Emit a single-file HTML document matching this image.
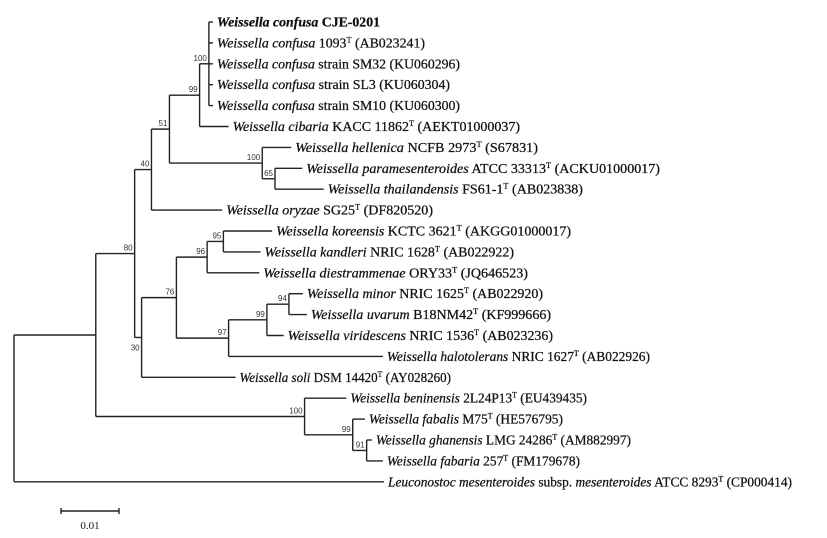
<!DOCTYPE html>
<html><head><meta charset="utf-8"><style>
html,body{margin:0;padding:0;background:#fff;}
svg{display:block;}
text{font-family:"Liberation Serif",serif;fill:#111;}
.lbl{stroke:#111;stroke-width:0.25;}
.bs{font-family:"Liberation Sans",sans-serif;font-size:8px;fill:#333;}
</style></head><body>
<svg id="tree" width="827" height="538" viewBox="0 0 827 538" xmlns="http://www.w3.org/2000/svg"></svg>
<script>
// Leaf labels (order top to bottom)
const leafGenus = ["Weissella confusa","Weissella confusa","Weissella confusa","Weissella confusa","Weissella confusa","Weissella cibaria","Weissella hellenica","Weissella paramesenteroides","Weissella thailandensis","Weissella oryzae","Weissella koreensis","Weissella kandleri","Weissella diestrammenae","Weissella minor","Weissella uvarum","Weissella viridescens","Weissella halotolerans","Weissella soli","Weissella beninensis","Weissella fabalis","Weissella ghanensis","Weissella fabaria","Leuconostoc mesenteroides"];
const leafStrain = ["CJE-0201","1093","strain SM32","strain SL3","strain SM10","KACC 11862","NCFB 2973","ATCC 33313","FS61-1","SG25","KCTC 3621","NRIC 1628","ORY33","NRIC 1625","B18NM42","NRIC 1536","NRIC 1627","DSM 14420","2L24P13","M75","LMG 24286","257","ATCC 8293"];
const leafTypeStrain = [0,1,0,0,0,1,1,1,1,1,1,1,1,1,1,1,1,1,1,1,1,1,1];
const leafAccession = ["","(AB023241)","(KU060296)","(KU060304)","(KU060300)","(AEKT01000037)","(S67831)","(ACKU01000017)","(AB023838)","(DF820520)","(AKGG01000017)","(AB022922)","(JQ646523)","(AB022920)","(KF999666)","(AB023236)","(AB022926)","(AY028260)","(EU439435)","(HE576795)","(AM882997)","(FM179678)","(CP000414)"];
// Tree structure: node id -> parent, branch length (substitutions/site), bootstrap
const nodeIds    = ["root","A","N80","N40","N51","N99a","N100a","Nh100","N65","N30","N76","N96","N95","N97","N99b","N94","Nb100","N99c","N91"];
const nodeParent = [null,"root","A","N80","N40","N51","N99a","N51","Nh100","N80","N30","N76","N96","N76","N97","N99b","A","Nb100","N99c"];
const nodeLength = [0,0.0141,0.0067,0.0029,0.0031,0.0052,0.0016,0.0160,0.0022,0.0012,0.0060,0.0053,0.0028,0.0090,0.0066,0.0038,0.0360,0.0083,0.0024];
const nodeBoot   = ["","","80","40","51","99","100","100","65","30","76","96","95","97","99","94","100","99","91"];
const leafParent = ["N100a","N100a","N100a","N100a","N100a","N99a","Nh100","N65","N65","N40","N95","N95","N96","N94","N94","N99b","N97","N30","Nb100","N99c","N91","N91","root"];
const leafLength = [0.0007,0.0007,0.0007,0.0007,0.0007,0.0050,0.0050,0.0047,0.0084,0.0122,0.0084,0.0064,0.0090,0.0024,0.0031,0.0029,0.0266,0.0162,0.0072,0.0021,0.0009,0.0028,0.0638];
const scaleValue = 0.01;
// layout: label right edges (px)
const labelEnd = [380,425,460,450,460,520,538,660,583,433,571,514,528,543,551,553,650,451,587,563,631,580,792];

const X0=14, PX_PER_UNIT=5800, Y0=22, DY=20.9;
const xs = d => X0 + d*PX_PER_UNIT;
const ys = i => Y0 + i*DY;
const svg=document.getElementById('tree');
const NS="http://www.w3.org/2000/svg";
function el(t,a){const e=document.createElementNS(NS,t);for(const k in a)e.setAttribute(k,a[k]);svg.appendChild(e);return e;}

const depth={}, kids={};
nodeIds.forEach((id,i)=>{kids[id]=[];});
nodeIds.forEach((id,i)=>{const p=nodeParent[i];depth[id]=(p?depth[p]:0)+nodeLength[i];if(p)kids[p].push({type:'n',id});});
leafGenus.forEach((g,i)=>{kids[leafParent[i]].push({type:'l',i});});
const leafDepth=leafGenus.map((g,i)=>depth[leafParent[i]]+leafLength[i]);
const nodeY={};
function yOf(c){return c.type==='l'?ys(c.i):getY(c.id);}
function getY(id){if(nodeY[id]!==undefined)return nodeY[id];const ch=kids[id].map(yOf);const mn=Math.min(...ch),mx=Math.max(...ch);nodeY[id]=(mn+mx)/2;return nodeY[id];}
const ST={stroke:'#222','stroke-width':1.4,fill:'none'};
nodeIds.forEach((id,i)=>{
  const ch=kids[id].map(yOf);
  const x=xs(depth[id]);
  const v=el('line',Object.assign({x1:x,x2:x,y1:Math.min(...ch),y2:Math.max(...ch)},ST));
  
  
  const p=nodeParent[i];
  if(p){const h=el('line',Object.assign({x1:xs(depth[p]),x2:x,y1:getY(id),y2:getY(id)},ST));
    
    }
  if(nodeBoot[i]){
    const below = id==='N30';
    const t=el('text',{x:x-2,y:below?getY(id)+13:getY(id)-3,'text-anchor':'end',class:'bs'});t.textContent=nodeBoot[i];
    
    }
});
leafGenus.forEach((g,i)=>{
  const y=ys(i), x1=xs(depth[leafParent[i]]), x2=xs(leafDepth[i]);
  const h=el('line',Object.assign({x1:x1,x2:x2,y1:y,y2:y},ST));
  
  
  const tx=x2+4;
  const t=el('text',{x:tx,y:y+4.5,'font-size':13.5,class:'lbl',textLength:Math.max(20,labelEnd[i]-tx),lengthAdjust:'spacingAndGlyphs'});
  
  
  const bold=i===0;
  let html='';
  if(g.startsWith('Leuconostoc')){
    html='<tspan font-style="italic">Leuconostoc mesenteroides</tspan> subsp. <tspan font-style="italic">mesenteroides</tspan> '+leafStrain[i];
  } else {
    html='<tspan font-style="italic"'+(bold?' font-weight="bold"':'')+'>'+g+'</tspan>'+(bold?'<tspan font-weight="bold"> '+leafStrain[i]+'</tspan>':' '+leafStrain[i]);
  }
  if(leafTypeStrain[i]) html+='<tspan font-size="8" dy="-5">T</tspan><tspan dy="5"> </tspan>';
  else if(leafAccession[i]) html+=' ';
  html+=leafAccession[i];
  t.innerHTML=html;
});
// scale bar
const sx1=61, sx2=sx1+scaleValue*PX_PER_UNIT, sy=511;
const sb=el('line',Object.assign({x1:sx1,x2:sx2,y1:sy,y2:sy},ST));


[sx1,sx2].forEach(x=>{el('line',Object.assign({x1:x,x2:x,y1:sy-3,y2:sy+3},ST));});
const sl=el('text',{x:(sx1+sx2)/2,y:sy+18,'text-anchor':'middle','font-size':11,'font-family':'Liberation Sans'});
sl.textContent=scaleValue.toString();


</script>
</body></html>
